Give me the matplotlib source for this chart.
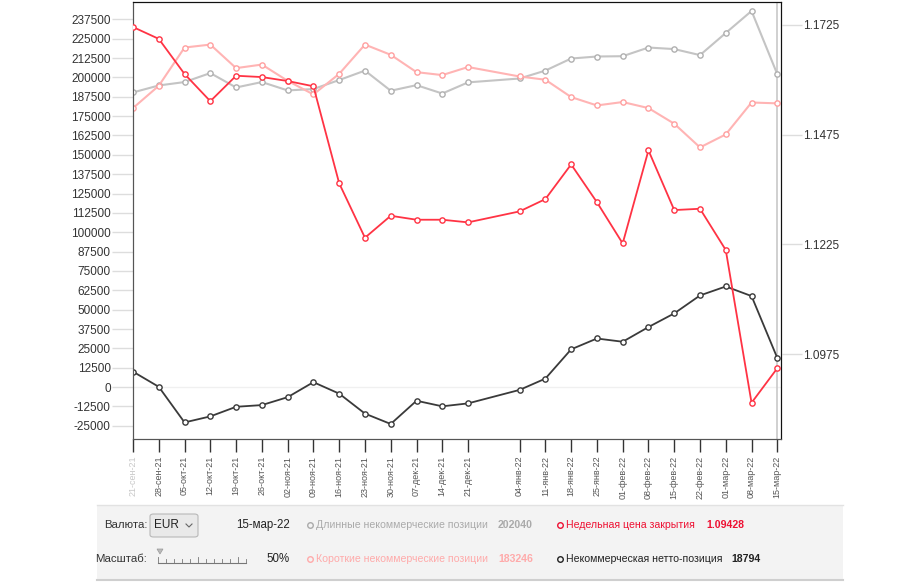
import datetime as dt
import matplotlib as mpl
import matplotlib.pyplot as plt
from matplotlib.lines import Line2D
from matplotlib.patches import Rectangle, FancyBboxPatch, Polygon

mpl.rcParams['font.family'] = ['Liberation Sans', 'DejaVu Sans']

# weekly report dates (28-dec-21 is missing in the source)
dates = [dt.date(2021, 9, 21) + dt.timedelta(weeks=w) for w in range(26) if w != 14]
date_labels = ["21-сен-21", "28-сен-21", "05-окт-21", "12-окт-21", "19-окт-21", "26-окт-21",
               "02-ноя-21", "09-ноя-21", "16-ноя-21", "23-ноя-21", "30-ноя-21", "07-дек-21",
               "14-дек-21", "21-дек-21", "04-янв-22", "11-янв-22", "18-янв-22", "25-янв-22",
               "01-фев-22", "08-фев-22", "15-фев-22", "22-фев-22", "01-мар-22", "08-мар-22",
               "15-мар-22"]

long_pos = [190300, 194800, 197000, 202800, 193500, 197000, 191600, 192500, 198300, 204400,
            191400, 195000, 189600, 196800, 199300, 204400, 212200, 213500, 213700, 219300,
            218300, 214400, 228700, 242900, 202040]
short_pos = [180200, 194600, 219300, 221200, 206000, 208300, 197800, 189000, 202300, 221200,
             214600, 203400, 201500, 206700, 200600, 198500, 187300, 181900, 184100, 180200,
             170100, 154800, 163200, 183800, 183246]
net_pos = [10000, 200, -22800, -18900, -12700, -11600, -6500, 3200, -4200, -17100,
           -23800, -8800, -12400, -10500, -1800, 5500, 24400, 31400, 29300, 38800,
           47600, 59200, 65000, 58800, 18794]
price = [1.1720, 1.1693, 1.1613, 1.1551, 1.1609, 1.1606, 1.1597, 1.1585, 1.1364, 1.1240,
         1.1290, 1.1281, 1.1281, 1.1275, 1.1300, 1.1328, 1.1407, 1.1321, 1.1227, 1.1439,
         1.1303, 1.1306, 1.1212, 1.0864, 1.09428]

left_ticks = list(range(-25000, 237501, 12500))
right_ticks = [1.0975, 1.1225, 1.1475, 1.1725]

W, H = 900, 582
fig = plt.figure(figsize=(9, 5.82), dpi=100)

def fx(px):
    return px / W

def fy(py):
    return 1 - py / H

ax = fig.add_axes([fx(133), fy(439), fx(781 - 133), (439 - 2) / H])
ax2 = ax.twinx()

mk = dict(marker='o', markersize=3.8, markerfacecolor='white', markeredgewidth=1)
ax.plot(dates, long_pos, color='#c4c4c4', lw=1.5, markeredgecolor='#b0b0b0', **mk, zorder=3)
ax.plot(dates, short_pos, color='#ffb4b4', lw=1.5, markeredgecolor='#ffa0a0', **mk, zorder=3)
ax.plot(dates, net_pos, color='#3a3a3a', lw=1.3, markeredgecolor='#3a3a3a', **mk, zorder=4)
ax2.plot(dates, price, color='#ff3344', lw=1.3, markeredgecolor='#ff3344', **mk, zorder=5)

ax.axhline(0, color='#f0f0f0', lw=1, zorder=1)
ax.axvline(dates[-1], color='#c8c8c8', lw=1.2, zorder=2)

ax.set_xlim(dates[0] - dt.timedelta(hours=4), dates[-1] + dt.timedelta(days=1.4))
ax.set_ylim(-33500, 248700)
ax2.set_ylim(1.07815, 1.1777)

ax.set_yticks(left_ticks)
ax.set_yticklabels([str(v) for v in left_ticks])
ax2.set_yticks(right_ticks)
ax2.set_yticklabels(["%.4f" % v for v in right_ticks])
ax.set_xticks(dates)
ax.set_xticklabels(date_labels, rotation=90)

ax.tick_params(axis='y', direction='out', length=15, width=1, color='#dddddd',
               labelsize=8.5, labelcolor='#333333', pad=1)
ax2.tick_params(axis='y', direction='out', length=15, width=1, color='#dddddd',
                labelsize=8.5, labelcolor='#333333', pad=1)
ax.tick_params(axis='x', direction='out', length=9, width=1, color='#333333',
               labelsize=6.5, labelcolor='#555555', pad=3)
ax.get_xticklabels()[0].set_color('#c8c8c8')

for a in (ax, ax2):
    a.spines['top'].set_color('#111111')
    a.spines['right'].set_color('#111111')
    a.spines['left'].set_color('#555555')
    a.spines['bottom'].set_color('#555555')

# control panel under the chart
fig.patches.append(Rectangle((fx(97), fy(581)), fx(843 - 97), (581 - 505) / H,
                             transform=fig.transFigure, facecolor='#f3f3f3',
                             edgecolor='none', zorder=0))
fig.add_artist(Line2D([fx(97), fx(843)], [fy(505), fy(505)], color='#e2e2e2', lw=1))
fig.add_artist(Line2D([fx(97), fx(843)], [fy(580), fy(580)], color='#cfcfcf', lw=1.5))

txt = dict(va='center', family=['Liberation Sans Narrow', 'Liberation Sans', 'DejaVu Sans'])
fig.text(fx(104), fy(525), "Валюта:", color='#333333', fontsize=8.2, **txt)
fig.text(fx(95), fy(559), "Масштаб:", color='#333333', fontsize=8.2, **txt)
fig.patches.append(FancyBboxPatch((fx(150), fy(537)), fx(48), 23 / H,
                                  boxstyle='round,pad=0,rounding_size=0.004',
                                  transform=fig.transFigure, facecolor='#e9e9e9',
                                  edgecolor='#b8b8b8', lw=0.8))
fig.text(fx(154), fy(525), "EUR", color='#222222', fontsize=8.5, **txt)
fig.add_artist(Line2D([fx(186), fx(189), fx(192)], [fy(524), fy(527), fy(524)], color='#666666', lw=0.8))
fig.text(fx(236), fy(525), "15-мар-22", color='#222222', fontsize=8.3, **txt)
fig.text(fx(266), fy(559), "50%", color='#222222', fontsize=8.3, **txt)

# slider
fig.add_artist(Line2D([fx(158), fx(246)], [fy(563), fy(563)], color='#777777', lw=0.8))
for i in range(12):
    xp = 158 + i * 8
    fig.add_artist(Line2D([fx(xp), fx(xp)], [fy(563), fy(559 if i % 5 else 557)], color='#777777', lw=0.6))
fig.patches.append(Polygon([(fx(157), fy(549)), (fx(163), fy(549)), (fx(160), fy(554))],
                           closed=True, transform=fig.transFigure, facecolor='#bbbbbb', edgecolor='#999999', lw=0.5))

legend_rows = [
    (307, 525, "Длинные некоммерческие позиции", "202040", 498, '#aaaaaa'),
    (307, 559, "Короткие некоммерческие позиции", "183246", 498, '#ffaaaa'),
    (557, 525, "Недельная цена закрытия", "1.09428", 706, '#ee1133'),
    (557, 559, "Некоммерческая нетто-позиция", "18794", 731, '#222222'),
]
for x0, y0, label, value, xv, col in legend_rows:
    fig.add_artist(Line2D([fx(x0 + 3)], [fy(y0)], marker='o', markersize=4,
                          markerfacecolor='none', markeredgecolor=col, markeredgewidth=1))
    fig.text(fx(x0 + 9), fy(y0), label, color=col, fontsize=7.6, **txt)
    fig.text(fx(xv), fy(y0), value, color=col, fontsize=7.6, fontweight='bold', **txt)

fig.savefig("out.png", dpi=100)
